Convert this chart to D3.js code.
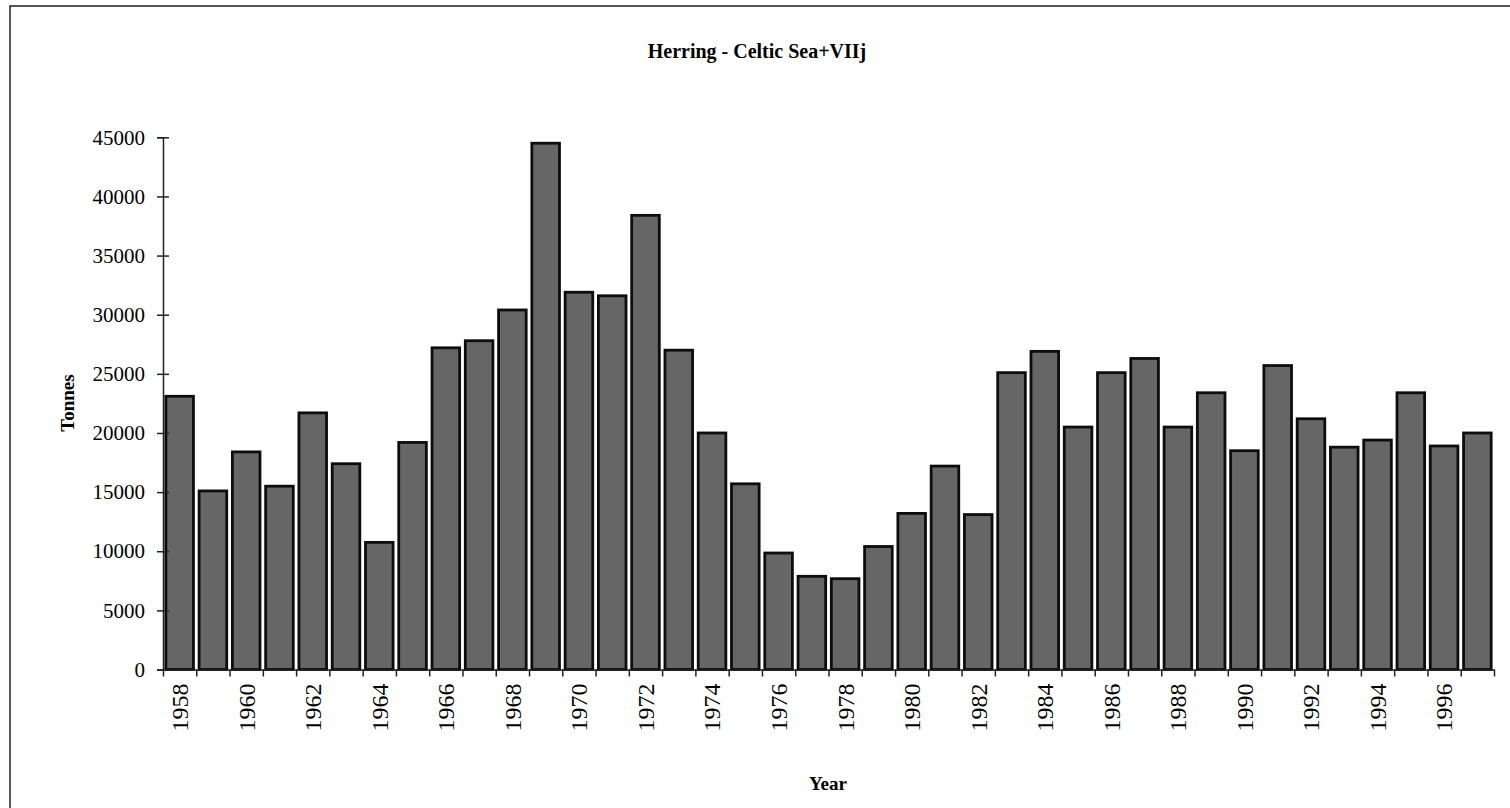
<!DOCTYPE html>
<html>
<head>
<meta charset="utf-8">
<script src="https://cdn.jsdelivr.net/npm/d3@7"></script>
<style>
  body { margin: 0; background: #fff; }
  svg { display: block; }
  text { font-family: "Liberation Serif", "Times New Roman", serif; fill: #000; }
</style>
</head>
<body>
<div id="chart"></div>
<script>
// data
const years = d3.range(1958, 1998)
const tonnes = [
    23100, 15100, 18400, 15500, 21700, 17400, 10750, 19200, 27200, 27800,
    30400, 44500, 31900, 31600, 38400, 27000, 20000, 15700, 9850, 7880,
    7680, 10400, 13200, 17200, 13100, 25100, 26900, 20500, 25100, 26300,
    20500, 23400, 18500, 25700, 21200, 18800, 19400, 23400, 18900, 20000
]
const yTicks = [0, 5000, 10000, 15000, 20000, 25000, 30000, 35000, 40000, 45000]
const dataset = years.map((y, i) => ({ year: y, value: tonnes[i] }))

const xAccessor = d => d.year
const yAccessor = d => d.value

let dimensions = {
    width: 1510,
    height: 808,
    plotLeft: 163,
    plotRight: 1494,
    plotTop: 137.3,
    plotBottom: 669.5,
}

const wrapper = d3.select("#chart")
    .append("svg")
    .attr("width", dimensions.width)
    .attr("height", dimensions.height)

// outer frame of the chart area
wrapper.append("rect")
    .attr("x", 10)
    .attr("y", 6)
    .attr("width", 1520)
    .attr("height", 830)
    .attr("fill", "none")
    .attr("stroke", "#222")
    .attr("stroke-width", 1.5)

// scales
const xScale = d3.scaleBand()
    .domain(years)
    .range([dimensions.plotLeft, dimensions.plotRight])
    .paddingInner(0.17)
    .paddingOuter(0.085)

const xTickScale = d3.scaleLinear()
    .domain([0, years.length])
    .range([dimensions.plotLeft, dimensions.plotRight])

const yScale = d3.scaleLinear()
    .domain([0, 45000])
    .range([dimensions.plotBottom, dimensions.plotTop])

// bars
wrapper.append("g")
    .selectAll("rect")
    .data(dataset)
    .enter()
    .append("rect")
    .attr("x", d => xScale(xAccessor(d)))
    .attr("y", d => yScale(yAccessor(d)))
    .attr("width", xScale.bandwidth())
    .attr("height", d => yScale(0) - yScale(yAccessor(d)))
    .attr("fill", "#666")
    .attr("stroke", "#0d0d0d")
    .attr("stroke-width", 2.8)

// y axis
const yAxisGenerator = d3.axisLeft()
    .scale(yScale)
    .tickValues(yTicks)
    .tickFormat(d3.format("d"))
    .tickSize(6)
    .tickPadding(12)

const yAxis = wrapper.append("g")
    .attr("transform", `translate(${dimensions.plotLeft},0)`)
    .call(yAxisGenerator)
yAxis.selectAll(".tick line").attr("x1", 6).attr("stroke", "#222").attr("stroke-width", 1.5)
yAxis.select(".domain").attr("stroke", "#222").attr("stroke-width", 1.5)
yAxis.selectAll("text")
    .attr("font-size", 21)
    .style("font-family", "'Liberation Serif', 'Times New Roman', serif")

// x axis: tick marks on band boundaries
const xAxisGenerator = d3.axisBottom()
    .scale(xTickScale)
    .tickValues(d3.range(years.length + 1))
    .tickFormat("")
    .tickSize(7)
    .tickSizeOuter(0)

const xAxis = wrapper.append("g")
    .attr("transform", `translate(0,${dimensions.plotBottom})`)
    .call(xAxisGenerator)
xAxis.selectAll(".tick line").attr("stroke", "#222").attr("stroke-width", 1.5)
xAxis.select(".domain").attr("stroke", "#222").attr("stroke-width", 1.5)

// year labels, every second year
wrapper.append("g")
    .selectAll("text")
    .data(years.filter(y => y % 2 === 0))
    .enter()
    .append("text")
    .attr("transform", d => `translate(${xScale(d) + xScale.bandwidth() / 2},${dimensions.plotBottom + 14}) rotate(-90)`)
    .attr("dy", "0.35em")
    .attr("text-anchor", "end")
    .attr("font-size", 24)
    .text(d => d)

// title and axis titles
wrapper.append("text")
    .attr("x", 757)
    .attr("y", 58)
    .attr("text-anchor", "middle")
    .attr("font-size", 20)
    .attr("font-weight", "bold")
    .text("Herring - Celtic Sea+VIIj")

wrapper.append("text")
    .attr("transform", "translate(67,403) rotate(-90)")
    .attr("dy", "0.35em")
    .attr("text-anchor", "middle")
    .attr("font-size", 19)
    .attr("font-weight", "bold")
    .text("Tonnes")

wrapper.append("text")
    .attr("x", 828)
    .attr("y", 790)
    .attr("text-anchor", "middle")
    .attr("font-size", 19)
    .attr("font-weight", "bold")
    .text("Year")
</script>
</body>
</html>
